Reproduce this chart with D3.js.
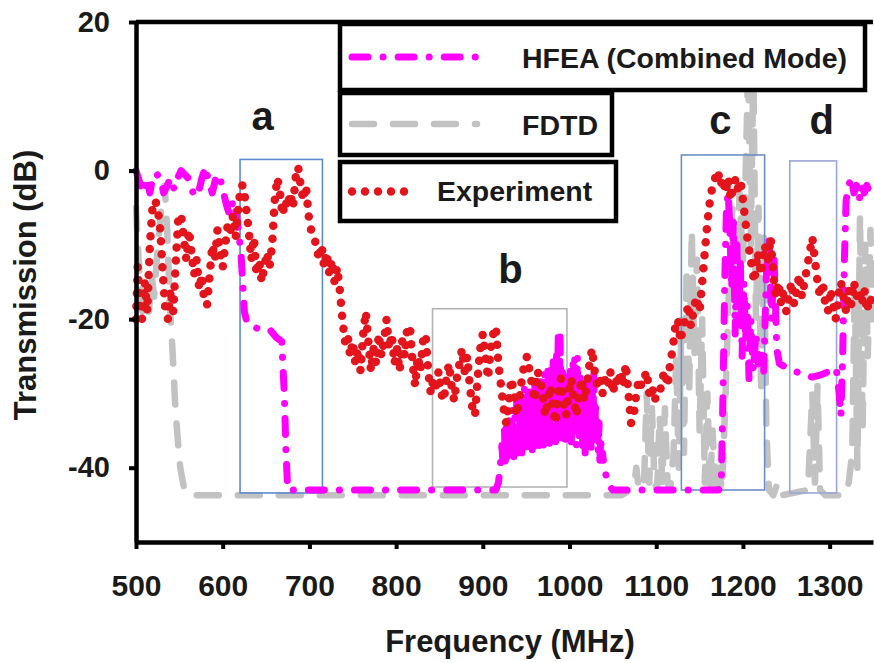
<!DOCTYPE html>
<html lang="en">
<head>
  <meta charset="UTF-8">
  <title>Transmission vs Frequency</title>
  <script src="https://d3js.org/d3.v7.min.js"></script>
  <style>
    body {
      margin: 0;
      padding: 0;
      background: #ffffff;
    }
    svg text {
      font-family: Arial, "Liberation Sans", sans-serif;
      font-weight: bold;
      fill: #1a1a1a;
    }
  </style>
</head>
<body>
  <svg id="chart" width="874" height="663"></svg>

  <script>
    // ---- data (frequency in MHz, transmission in dB) ----
    const hfea = [
      [500,0],[504,-1.5],[508,-3],[512,-1],[516,-3],[520,-0.5],[524,-0.5],[528,-1],[532,-3],[536,-2],
      [540,-1],[544,-2.5],[548,-1],[552,0],[556,-0.5],[560,-1],[564,-2.5],[568,-3.5],[572,-3],[576,-1],
      [580,0.5],[584,-1.5],[588,-3],[592,-1],[596,-0.5],[600,-2.5],[604,-4.5],[608,-6],[612,-4],[616,-6],
      [619,-9],[621,-11],[623,-15],[625,-19],[628,-20.5],[635,-21],[645,-21.5],[655,-21.5],[662,-22.5],[668,-23],
      [671,-30],[673,-38],[675,-43],[680,-43],[915,-43],[918,-42],[920,-40],[922,-37],[923,-39],
      [924,-38],[925,-35],[926,-40],[927,-34],[928,-39],[929,-36],[930,-33],[931,-39],[932,-35],[933,-38],
      [934,-32],[935,-37],[936,-39],[937,-33],[938,-36],[939,-31],[940,-38],[941,-34],[942,-30],[943,-37],
      [944,-33],[945,-38],[946,-31],[947,-35],[948,-29],[949,-37],[950,-32],[951,-38],[952,-30],[953,-35],
      [954,-29],[955,-36],[956,-31],[957,-38],[958,-30],[959,-34],[960,-28],[961,-37],[962,-31],[963,-35],
      [964,-29],[965,-37],[966,-32],[967,-28],[968,-36],[969,-30],[970,-37],[971,-27],[972,-34],[973,-29],
      [974,-36],[975,-27],[976,-33],[977,-37],[978,-26],[979,-31],[980,-36],[981,-25],[982,-33],[983,-28],
      [984,-37],[985,-24],[986,-32],[987,-22],[988,-36],[989,-22],[990,-30],[991,-36],[992,-27],[993,-34],
      [994,-29],[995,-37],[996,-27],[997,-33],[998,-36],[999,-28],[1000,-34],[1001,-27],[1002,-37],[1003,-30],
      [1004,-26],[1005,-35],[1006,-25],[1007,-32],[1008,-37],[1009,-25],[1010,-31],[1011,-36],[1012,-27],[1013,-34],
      [1014,-29],[1015,-37],[1016,-28],[1017,-33],[1018,-38],[1019,-29],[1020,-35],[1021,-30],[1022,-37],[1023,-28],
      [1024,-33],[1025,-38],[1026,-29],[1027,-34],[1028,-27],[1029,-37],[1030,-31],[1031,-36],[1032,-33],[1033,-38],
      [1034,-34],[1035,-39],[1036,-36],[1037,-39],[1038,-38],[1040,-40],[1043,-41.5],[1046,-42.5],
      [1050,-43],[1172,-43],[1175,-42],[1177,-30],[1179,-15],[1181,-5],[1183,-3],[1185,-8],[1187,-16],[1189,-6],
      [1191,-22],[1193,-10],[1195,-20],[1197,-12],[1199,-25],[1201,-15],[1203,-23],[1205,-18],[1207,-28],[1209,-20],
      [1212,-27],[1215,-22],[1218,-26],[1221,-24],[1224,-27],[1227,-14],[1230,-9],[1233,-20],[1236,-12],[1239,-24],
      [1242,-26],[1250,-26.5],[1260,-27],[1270,-27.5],[1280,-27.8],[1290,-27.5],[1300,-27],[1305,-26.5],[1308,-27],[1311,-30],
      [1313,-33],[1315,-25],[1317,-12],[1319,-4],[1322,-2],[1325,-1],[1328,-3],[1331,-2],[1334,-4],[1337,-2],
      [1340,-3],[1343,-2],[1346,-3],[1350,-3]
    ];

    const fdtd = [
      [500,-5],[503,-12],[506,-18],[509,-20],[512,-16],[515,-19],[518,-14],[521,-17],[524,-12],[527,-8],
      [530,-4],[533,-2],[536,-8],[539,-18],[542,-24],[545,-31],[548,-36],[551,-40],[555,-42.5],[560,-43.7],
      [1060,-43.7],[1070,-43],[1075,-42],[1077,-40],[1079,-42],[1082,-43],[1086,-42],[1089,-30],[1092,-42],[1095,-32],
      [1098,-42],[1101,-43],[1104,-33],[1107,-42],[1110,-32],[1113,-42],[1116,-43],[1120,-38],[1123,-25],[1126,-40],
      [1129,-20],[1132,-38],[1135,-13],[1138,-30],[1141,-8],[1144,-25],[1147,-12],[1150,-35],[1153,-20],[1156,-42],
      [1159,-30],[1162,-43],[1165,-35],[1168,-43],[1172,-40],[1176,-43],[1180,-30],[1184,-15],[1188,-5],[1192,-20],
      [1196,-3],[1200,-12],[1203,-1],[1206,14],[1209,-10],[1212,14],[1215,-20],[1218,-5],[1221,-30],[1224,-8],
      [1227,-35],[1230,-43],[1235,-43.7],[1240,-42],[1245,-43.7],[1275,-43],[1280,-30],[1283,-42],[1286,-29],[1289,-43],
      [1295,-43.7],[1318,-43.7],[1322,-42],[1326,-38],[1329,-15],[1332,-40],[1335,-6],[1338,-35],[1341,-10],[1344,-25],
      [1347,-8],[1350,-20]
    ];

    const experiment = [
      [500,-20],[502,-13],[504,-18],[507,-20],[510,-15],[513,-19],[516,-10],[519,-5],[522,-4],[525,-5],
      [528,-8],[531,-14],[534,-19],[537,-20],[540,-16],[543,-19],[546,-12],[549,-6],[552,-6],[555,-9],
      [558,-12],[561,-8],[564,-11],[567,-14],[570,-12],[573,-16],[576,-14],[579,-18],[582,-18],[585,-14],
      [588,-10],[591,-12],[594,-8],[597,-11],[600,-13],[603,-10],[606,-7],[609,-8],[612,-6],[615,-9],
      [618,-5],[621,-2],[624,-2],[627,-5],[630,-8],[633,-12],[636,-9],[639,-14],[642,-12],[645,-15],
      [648,-13],[651,-11],[654,-13],[657,-10],[660,-4],[663,-1],[666,-3],[669,-6],[672,-4],[675,-5],
      [678,-3],[681,-5],[684,-1],[687,0.5],[690,-2],[693,-4],[696,-2],[699,-6],[702,-8],[705,-9],
      [708,-10],[711,-12],[714,-10],[717,-13],[720,-11],[723,-14],[726,-12],[729,-15],[732,-13],[735,-16],
      [738,-20],[741,-23],[744,-22],[747,-25],[750,-23],[753,-26],[756,-24],[759,-27],[762,-22],[765,-19],
      [768,-23],[771,-27],[774,-24],[777,-26],[780,-22],[783,-25],[786,-23],[789,-20],[792,-24],[795,-22],
      [798,-26],[801,-24],[804,-27],[807,-23],[810,-25],[813,-21],[816,-21],[819,-26],[822,-29],[825,-25],
      [828,-27],[831,-23],[834,-22],[837,-27],[840,-30],[843,-28],[846,-29],[849,-27],[852,-30],[855,-31],
      [858,-28],[861,-26],[864,-29],[867,-31],[870,-28],[873,-26],[876,-24],[879,-27],[882,-25],[885,-29],
      [888,-32],[891,-33],[894,-28],[897,-24],[900,-22],[903,-25],[906,-28],[909,-24],[912,-22],[915,-21],
      [918,-26],[921,-29],[924,-32],[927,-34],[930,-31],[933,-28],[936,-30],[939,-33],[942,-31],[945,-28],
      [948,-26],[951,-25],[954,-27],[957,-29],[960,-31],[963,-27],[966,-28],[969,-30],[972,-33],[975,-31],
      [978,-29],[981,-32],[984,-34],[987,-30],[990,-28],[993,-31],[996,-33],[999,-30],[1002,-28],[1005,-31],
      [1008,-33],[1011,-30],[1014,-28],[1017,-31],[1020,-29],[1023,-26],[1026,-24],[1029,-27],[1032,-29],[1035,-28],
      [1038,-30],[1041,-28],[1044,-29],[1047,-27],[1050,-30],[1053,-28],[1056,-29],[1059,-27],[1062,-29],[1065,-26],
      [1068,-30],[1071,-34],[1074,-33],[1077,-30],[1080,-28],[1083,-29],[1086,-28],[1089,-27],[1092,-30],[1095,-29],
      [1098,-31],[1101,-30],[1104,-30],[1107,-28],[1110,-27],[1113,-29],[1116,-26],[1119,-24],[1122,-21],[1125,-20],
      [1128,-23],[1131,-21],[1134,-20],[1137,-18],[1140,-21],[1143,-19],[1146,-17],[1150,-19],[1153,-15],[1156,-11],
      [1159,-7],[1162,-4],[1165,-2],[1168,-1],[1171,0],[1174,-2],[1177,-1],[1180,-3],[1183,-1],[1186,-4],
      [1189,-2],[1192,-1],[1195,-3],[1198,-2],[1201,-5],[1205,-9],[1209,-12],[1213,-15],[1217,-11],[1221,-14],
      [1225,-10],[1229,-12],[1232,-9],[1235,-14],[1238,-17],[1241,-15],[1244,-18],[1247,-16],[1250,-19],[1253,-17],
      [1256,-15],[1259,-18],[1262,-16],[1265,-14],[1268,-17],[1271,-15],[1274,-13],[1277,-11],[1280,-9],[1283,-12],
      [1286,-15],[1289,-17],[1292,-15],[1295,-18],[1298,-19],[1301,-16],[1304,-18],[1307,-20],[1310,-17],[1313,-15],
      [1316,-17],[1319,-19],[1322,-16],[1325,-18],[1328,-15],[1331,-17],[1334,-16],[1337,-18],[1340,-16],[1343,-19],
      [1346,-17],[1350,-18]
    ];

    // highlighted bands: [from MHz, to MHz, top dB, bottom dB]
    const regionNames = ["a", "b", "c", "d"];
    const regionBands = [[620, 715, 1.5, -43.4], [842, 997, -18.6, -42.6], [1129, 1225, 2.1, -43], [1254, 1308, 1.3, -43.4]];
    const regionLabelAt = [[646, 5.5], [932, -15.1], [1174, 4.9], [1291, 4.9]];

    const xTicks = [500, 600, 700, 800, 900, 1000, 1100, 1200, 1300];
    const yTicks = [-40, -20, 0, 20];
    const seriesNames = ["HFEA (Combined Mode)", "FDTD", "Experiment"];

    // ---- chart ----
    const svg = d3.select("#chart");

    const x = d3.scaleLinear().domain([500, 1350]).range([136, 873]);
    const y = d3.scaleLinear().domain([-50, 20]).range([542, 22]);

    const line = d3.line().x(d => x(d[0])).y(d => y(d[1]));

    const styles = {
      hfea: { color: "#ff00ff", width: 7, dash: "16 15 0.1 15", cap: "round" },
      fdtd: { color: "#c2c2c2", width: 6.5, dash: "22 19", cap: "round" },
      exp:  { color: "#e3141b", width: 8.5, dash: "0 13", cap: "round" }
    };

    function drawSeries(data, s) {
      svg.append("path")
        .datum(data)
        .attr("d", line)
        .attr("fill", "none")
        .attr("stroke", s.color)
        .attr("stroke-width", s.width)
        .attr("stroke-dasharray", s.dash)
        .attr("stroke-linecap", s.cap)
        .attr("stroke-linejoin", "round");
    }

    drawSeries(fdtd, styles.fdtd);

    // band boxes
    const boxColors = ["#5d8bd1", "#b3b3b3", "#6d8dc8", "#9aa6d6"];
    regionBands.forEach((b, i) => {
      svg.append("rect")
        .attr("x", x(b[0]))
        .attr("y", y(b[2]))
        .attr("width", x(b[1]) - x(b[0]))
        .attr("height", y(b[3]) - y(b[2]))
        .attr("fill", "none")
        .attr("stroke", boxColors[i])
        .attr("stroke-width", 1.6);
    });

    drawSeries(hfea, styles.hfea);
    drawSeries(experiment, styles.exp);

    regionNames.forEach((n, i) => {
      svg.append("text")
        .attr("x", x(regionLabelAt[i][0]))
        .attr("y", y(regionLabelAt[i][1]))
        .attr("text-anchor", "middle")
        .style("font-size", "40px")
        .text(n);
    });

    // axes
    const yAxis = svg.append("g")
      .attr("transform", `translate(${x(500)},0)`)
      .call(d3.axisLeft(y).tickValues(yTicks).tickFormat(d => String(d))
        .tickSize(7).tickSizeOuter(0).tickPadding(19));
    const xAxis = svg.append("g")
      .attr("transform", `translate(0,${y(-50)})`)
      .call(d3.axisBottom(x).tickValues(xTicks).tickFormat(d => String(d))
        .tickSize(7).tickSizeOuter(0).tickPadding(26));

    [yAxis, xAxis].forEach(g => {
      g.select(".domain").attr("stroke", "#000").attr("stroke-width", 4.5);
      g.selectAll(".tick line").attr("stroke", "#000").attr("stroke-width", 4);
      g.selectAll(".tick text").style("font-size", "29px").attr("fill", "#1a1a1a");
    });
    xAxis.selectAll(".tick text").style("font-size", "30px");

    // top frame line
    svg.append("line")
      .attr("x1", x(500)).attr("x2", x(1350))
      .attr("y1", y(20)).attr("y2", y(20))
      .attr("stroke", "#000").attr("stroke-width", 4.5);

    // axis titles
    svg.append("text")
      .attr("x", 510).attr("y", 652)
      .attr("text-anchor", "middle")
      .style("font-size", "31px")
      .text("Frequency (MHz)");

    svg.append("text")
      .attr("transform", "translate(36,285) rotate(-90)")
      .attr("text-anchor", "middle")
      .style("font-size", "31px")
      .text("Transmission (dB)");

    // legend (three stacked boxes)
    const legendBoxes = [
      { x: 340, y: 24, w: 525, h: 66, key: "hfea", sx1: 483, tx: 522, ty: 68 },
      { x: 340, y: 93, w: 272, h: 62, key: "fdtd", sx1: 477, tx: 522, ty: 135 },
      { x: 340, y: 162, w: 276, h: 59, key: "exp", sx1: 413, tx: 437, ty: 201 }
    ];

    legendBoxes.forEach((b, i) => {
      svg.append("rect")
        .attr("x", b.x).attr("y", b.y)
        .attr("width", b.w).attr("height", b.h)
        .attr("fill", "#fff")
        .attr("stroke", "#000")
        .attr("stroke-width", 4.5);

      const s = styles[b.key];
      const sy = b.y + b.h / 2;
      svg.append("line")
        .attr("x1", b.x + 12).attr("x2", b.sx1)
        .attr("y1", sy).attr("y2", sy)
        .attr("stroke", s.color)
        .attr("stroke-width", s.width)
        .attr("stroke-dasharray", s.dash)
        .attr("stroke-linecap", s.cap);

      svg.append("text")
        .attr("x", b.tx).attr("y", b.ty)
        .style("font-size", "28.5px")
        .text(seriesNames[i]);
    });
  </script>
</body>
</html>
